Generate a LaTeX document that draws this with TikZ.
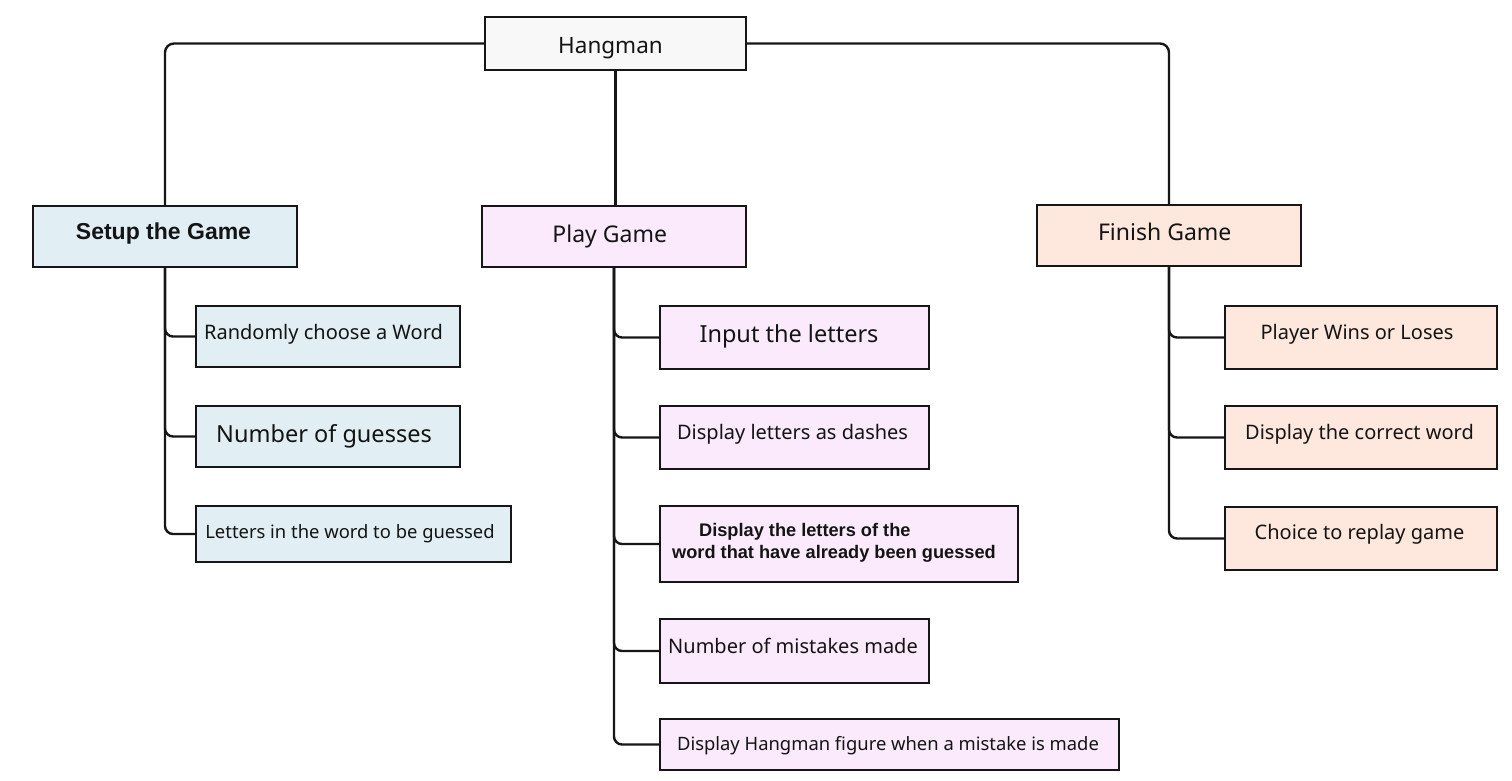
\documentclass[tikz,border=0pt]{standalone}
\usepackage{fontspec}
\setmainfont{Noto Sans}
\newfontfamily\arialf{Liberation Sans}
\definecolor{linec}{HTML}{161616}
\definecolor{hangfill}{HTML}{F8F8F8}
\definecolor{setupfill}{HTML}{E1EFF4}
\definecolor{playfill}{HTML}{FAEAFC}
\definecolor{finishfill}{HTML}{FEE7DD}
\tikzset{
  box/.style={draw=linec, line width=2.3pt, fill=#1, inner sep=0pt, rectangle},
  txt/.style={inner sep=0pt, text=black!92, text height=0.75em, text depth=0.25em, yshift=-5pt},
  conn/.style={draw=linec, line width=2.4pt, rounded corners=9pt},
}
\newcommand{\fsz}[1]{\fontsize{#1pt}{#1pt}\selectfont}
\newcommand{\fszb}[2]{\fontsize{#1pt}{#2pt}\selectfont}
\begin{document}
\begin{tikzpicture}[x=1pt,y=-1pt]
\useasboundingbox (0,0) rectangle (1512,781);
% boxes
\node[box=hangfill, minimum width=261pt, minimum height=53pt] (hang) at (615.5,43.5) {};
\node[box=setupfill, minimum width=264pt, minimum height=61pt] (setup) at (165,236.5) {};
\node[box=playfill, minimum width=264pt, minimum height=61pt] (play) at (614,236.5) {};
\node[box=finishfill, minimum width=264pt, minimum height=61pt] (finish) at (1169,235.5) {};
\node[box=setupfill, minimum width=264pt, minimum height=61pt] (s1) at (328,336.5) {};
\node[box=setupfill, minimum width=264pt, minimum height=61pt] (s2) at (328,436.5) {};
\node[box=setupfill, minimum width=315pt, minimum height=56pt] (s3) at (353.5,534) {};
\node[box=playfill, minimum width=269pt, minimum height=63pt] (p1) at (794.5,337.5) {};
\node[box=playfill, minimum width=269pt, minimum height=63pt] (p2) at (794.5,437.5) {};
\node[box=playfill, minimum width=358pt, minimum height=76pt] (p3) at (839,544) {};
\node[box=playfill, minimum width=269pt, minimum height=64pt] (p4) at (794.5,651) {};
\node[box=playfill, minimum width=459pt, minimum height=51pt] (p5) at (889.5,744.5) {};
\node[box=finishfill, minimum width=272pt, minimum height=63pt] (f1) at (1361,337.5) {};
\node[box=finishfill, minimum width=272pt, minimum height=63pt] (f2) at (1361,437.5) {};
\node[box=finishfill, minimum width=272pt, minimum height=63pt] (f3) at (1361,538.5) {};
% texts
\node[txt, font=\fsz{22.5}] (hangt) at (610.5,46) {Hangman};
\node[txt, font=\arialf\bfseries\fsz{23}] (setupt) at (163.5,231.7) {Setup the Game};
\node[txt, font=\fsz{23}] (playt) at (609.7,235) {Play Game};
\node[txt, font=\fsz{23}] (finisht) at (1164.7,233) {Finish Game};
\node[txt, font=\fsz{20}] (s1t) at (323.5,331.7) {Randomly choose a Word};
\node[txt, font=\fsz{23.5}] (s2t) at (324,435) {Number of guesses};
\node[txt, font=\fsz{18.4}] (s3t) at (350,530.7) {Letters in the word to be guessed};
\node[txt, font=\fsz{23.5}] (p1t) at (789,335) {Input the letters};
\node[txt, font=\fsz{20}] (p2t) at (792.6,432) {Display letters as dashes};
\node[inner sep=0pt, align=left, text=black!92, font=\arialf\bfseries\fszb{18.2}{22}] (p3t) at (834,543) {\hspace*{27pt}Display the letters of the\\word that have already been guessed};
\node[txt, font=\fsz{20}] (p4t) at (793,645.7) {Number of mistakes made};
\node[txt, font=\fsz{18.4}] (p5t) at (888,743) {Display Hangman figure when a mistake is made};
\node[txt, font=\fsz{20}] (f1t) at (1357,331.7) {Player Wins or Loses};
\node[txt, font=\fsz{20}] (f2t) at (1359.5,432) {Display the correct word};
\node[txt, font=\fsz{20}] (f3t) at (1359.5,532) {Choice to replay game};
% top connectors
\draw[conn] (hang.west) -| (setup.north);
\draw[conn] (hang.east) -| (finish.north);
\draw[conn] (hang.south) -- (hang.south |- play.north);
% child connectors
\foreach \c in {s1,s2,s3} \draw[conn, rounded corners=8pt] (setup.south) |- (\c.west);
\foreach \c in {p1,p2,p3,p4,p5} \draw[conn, rounded corners=8pt] (play.south) |- (\c.west);
\foreach \c in {f1,f2,f3} \draw[conn, rounded corners=8pt] (finish.south) |- (\c.west);
\end{tikzpicture}
\end{document}
